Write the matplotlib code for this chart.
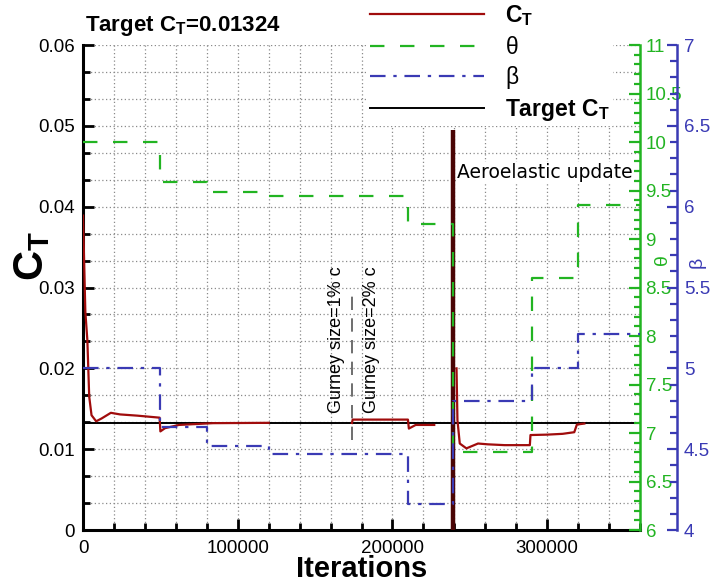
import numpy as np
import matplotlib.pyplot as plt
from matplotlib.ticker import MultipleLocator, FormatStrFormatter

plt.rcParams['font.family'] = 'Liberation Sans'
plt.rcParams['mathtext.fontset'] = 'custom'
plt.rcParams['mathtext.rm'] = 'Liberation Sans'
plt.rcParams['mathtext.bf'] = 'Liberation Sans:bold'
plt.rcParams['mathtext.it'] = 'Liberation Sans:italic'

# thrust coefficient history (NaN breaks the curve between runs)
ct_iter = [0, 1500, 2800, 4000, 5500, 8500, 12000, 18000, 24000, 35000, 49500,
           50000, 53000, 62000, 84000, 120000, 120500,
           173800, 174300, 210000, 210600, 215000, 227000, 227500,
           241400, 242000, 243500, 247800, 255300, 261700, 272500, 288800,
           289200, 300000, 310000, 317500, 319200, 324000]
ct_vals = [0.0389, 0.0270, 0.0235, 0.0165, 0.0142, 0.01345, 0.0138, 0.0145, 0.0143, 0.01415, 0.0139,
           0.0122, 0.0126, 0.0130, 0.01322, 0.01326, np.nan,
           0.01324, 0.01366, 0.01366, 0.01255, 0.0130, 0.0130, np.nan,
           0.0200, 0.0136, 0.0107, 0.0101, 0.0107, 0.0106, 0.0105, 0.0105,
           0.01175, 0.0118, 0.0119, 0.0121, 0.01305, 0.01317]
target_ct = 0.01324

# pitch angle theta and flap angle beta (piecewise constant)
step_iter = [0, 50000, 80000, 120000, 210000, 239000, 290000, 320000, 360000]
theta_vals = [10.0, 9.59, 9.48, 9.44, 9.15, 6.80, 8.60, 9.35, 9.35]
beta_vals = [5.0, 4.635, 4.52, 4.47, 4.16, 4.80, 5.0, 5.21, 5.21]

restart_iter = 238900
restart_top = 0.0495
gurney_iter = 173800

red = '#a00c0c'
green = '#22b422'
blue = '#3a3ab4'

fig = plt.figure(figsize=(7.12, 5.85), dpi=100)
ax = fig.add_axes([0.1166, 0.094, 0.7823, 0.829])
ax_t = ax.twinx()
ax_b = ax.twinx()

# main axis: C_T
ct_line, = ax.plot(ct_iter, ct_vals, color=red, lw=1.6, zorder=3)
ax.vlines(restart_iter, 0, restart_top, color='#4a0505', lw=3.2, zorder=4)
tgt_line = ax.axhline(target_ct, color='black', lw=1.4, zorder=2)
ax.vlines(gurney_iter, 0.0111, 0.0290, color='#555555', lw=1.2,
          linestyles=(0, (8, 5)), zorder=2)

ax.set_xlim(0, 360000)
ax.set_ylim(0, 0.06)
ax.xaxis.set_major_locator(MultipleLocator(100000))
ax.xaxis.set_minor_locator(MultipleLocator(20000))
ax.yaxis.set_major_locator(MultipleLocator(0.01))
ax.yaxis.set_minor_locator(MultipleLocator(0.01 / 3))
ax.xaxis.set_major_formatter(FormatStrFormatter('%d'))
ax.yaxis.set_major_formatter(FormatStrFormatter('%g'))
ax.grid(True, which='both', color='#8a8a8a', lw=0.9, linestyle=(0, (1, 2)))
ax.tick_params(which='both', direction='in', labelsize=13.5, width=2, top=False, right=False)
ax.tick_params(which='major', length=8)
ax.tick_params(which='minor', length=5)
ax.tick_params(axis='y', pad=6)
ax.tick_params(axis='x', pad=7)
for s in ['top', 'right']:
    ax.spines[s].set_visible(False)
for s in ['left', 'bottom']:
    ax.spines[s].set_linewidth(2.2)

ax.set_xlabel('Iterations', fontsize=21, fontweight='bold', labelpad=-1)
ax.set_ylabel(r'$\mathbf{C_T}$', fontsize=30)
ax.yaxis.set_label_coords(-0.056, 0.565)

# theta axis
theta_line, = ax_t.plot(step_iter, theta_vals, drawstyle='steps-post', color=green,
                        lw=1.6, dashes=(6.5, 7))
ax_t.set_ylim(6, 11)
ax_t.yaxis.set_major_locator(MultipleLocator(0.5))
ax_t.yaxis.set_minor_locator(MultipleLocator(0.1))
ax_t.yaxis.set_major_formatter(FormatStrFormatter('%g'))
ax_t.tick_params(axis='y', which='both', direction='in', colors=green, labelsize=13.5, width=1.6, pad=4)
ax_t.tick_params(axis='y', which='major', length=8)
ax_t.tick_params(axis='y', which='minor', length=4)
for s in ['top', 'left', 'bottom']:
    ax_t.spines[s].set_visible(False)
ax_t.spines['right'].set_color(green)
ax_t.spines['right'].set_linewidth(1.8)

# beta axis
beta_line, = ax_b.plot(step_iter, beta_vals, drawstyle='steps-post', color=blue,
                       lw=1.6, dashes=(7, 3.5, 1.5, 3.5))
ax_b.set_ylim(4, 7)
ax_b.spines['right'].set_position(('axes', 1.066))
ax_b.yaxis.set_major_locator(MultipleLocator(0.5))
ax_b.yaxis.set_minor_locator(MultipleLocator(0.1))
ax_b.yaxis.set_major_formatter(FormatStrFormatter('%g'))
ax_b.tick_params(axis='y', which='both', direction='in', colors=blue, labelsize=13.5, width=1.6, pad=5)
ax_b.tick_params(axis='y', which='major', length=7)
ax_b.tick_params(axis='y', which='minor', length=5)
for s in ['top', 'left', 'bottom']:
    ax_b.spines[s].set_visible(False)
ax_b.spines['right'].set_color(blue)
ax_b.spines['right'].set_linewidth(1.8)

fig.text(663 / 712, 1 - 260 / 585, 'θ', color=green, fontsize=14, rotation=90,
         ha='center', va='center')
fig.text(697 / 712, 1 - 262 / 585, 'β', color=blue, fontsize=14, rotation=90,
         ha='center', va='center')

# annotations
ax.text(163700, 0.01444, 'Gurney size=1% c', rotation=90, fontsize=13,
        ha='center', va='bottom')
ax.text(186700, 0.01444, 'Gurney size=2% c', rotation=90, fontsize=13,
        ha='center', va='bottom')
ax.text(241800, 0.04423, 'Aeroelastic update', family='DejaVu Sans', fontsize=13.5,
        ha='left', va='center', zorder=5,
        bbox=dict(facecolor='white', edgecolor='none', pad=1))

fig.text(85 / 712, 1 - 31 / 585, r'Target $\mathbf{C_T}$=0.01324', fontsize=16,
         fontweight='bold', va='baseline')

leg = fig.legend([ct_line, theta_line, beta_line, tgt_line],
                 [r'$\mathbf{C_T}$', 'θ', 'β', r'Target $\mathbf{C_T}$'],
                 loc='upper left', bbox_to_anchor=(367 / 712, 1.0),
                 fontsize=16.5, handlelength=4.97, handletextpad=0.92,
                 labelspacing=0.33, borderpad=0.15, borderaxespad=0,
                 frameon=True, fancybox=False, framealpha=1,
                 facecolor='white', edgecolor='none')
for t in leg.get_texts()[3:]:
    t.set_fontweight('bold')

fig.savefig('out.png', dpi=100)
